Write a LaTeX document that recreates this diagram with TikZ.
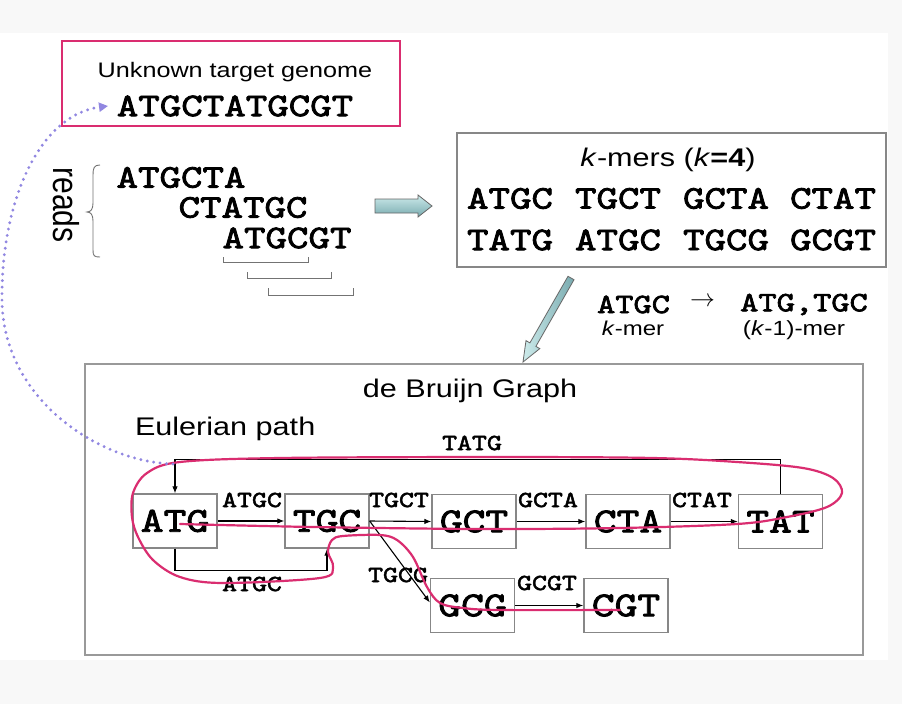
\documentclass[tikz,border=0pt]{standalone}
\usepackage{fontspec}
\setmainfont{Liberation Sans}
\newfontfamily\wsans[FakeStretch=1.2]{Liberation Sans}
\newfontfamily\cour{lmmono10-regular}[Extension=.otf, FakeStretch=1.24, FakeBold=2.5]
\newfontfamily\courl{lmmono10-regular}[Extension=.otf, FakeStretch=1.24, FakeBold=2.2]
\usetikzlibrary{arrows.meta,calc}
\definecolor{pinkc}{RGB}{218,45,112}
\definecolor{dotc}{RGB}{145,135,225}
\definecolor{boxg}{RGB}{135,135,135}
\definecolor{bgg}{RGB}{248,248,248}
\definecolor{tealL}{RGB}{205,235,235}
\definecolor{tealD}{RGB}{120,170,175}
\tikzset{
  txt/.style={inner sep=0pt, outer sep=0pt},
  bigmono/.style={txt, font=\cour\fontsize{33}{33}\selectfont},
  midmono/.style={txt, font=\cour\fontsize{28}{28}\selectfont},
  lblmono/.style={txt, font=\courl\fontsize{23}{23}\selectfont},
  vertex/.style={draw=boxg, line width=1.3pt, minimum width=84pt, minimum height=54pt, inner sep=0pt, font=\cour\fontsize{35}{35}\selectfont},
  edge/.style={-{Latex[length=7pt,width=5.5pt]}, line width=1.1pt, black},
  bracket/.style={draw=black!55, line width=1pt},
  blockarrow/.style={draw=black!60, line width=0.8pt, top color=tealL, bottom color=tealD},
}
\begin{document}
\begin{tikzpicture}[x=1pt,y=-1pt]
\useasboundingbox (0,0) rectangle (902,704);
\fill[bgg] (0,0) rectangle (902,704);
\fill[white] (0,33) rectangle (888,660);

% genome box
\node[draw=pinkc, line width=2.5pt, minimum width=338pt, minimum height=85pt, inner sep=0pt] (genome) at (231,83.5) {};
\node[txt, anchor=base, font=\wsans\fontsize{21}{21}\selectfont] (gtitle) at (235,77) {Unknown target genome};
\node[bigmono] (gseq) at (235,106) {ATGCTATGCGT};

% reads
\node[txt, rotate=-90, font=\fontsize{30}{30}\selectfont] (reads) at (66,205) {\scalebox{1}[1.2]{reads}};
\draw[black!55, line width=0.9pt] (100,165) .. controls (94,165) and (93,168) .. (93,175) -- (93,203)
   .. controls (93,209) and (91,212) .. (87,212) .. controls (91,212) and (93,215) .. (93,221)
   -- (93,250) .. controls (93,256) and (94,257) .. (100,257);
\node[bigmono] (r1) at (181,177.5) {ATGCTA};
\node[bigmono] (r2) at (243,207.5) {CTATGC};
\node[bigmono] (r3) at (287,238) {ATGCGT};
\draw[bracket] (223,257) |- (308,262) -- (308,257);
\draw[bracket] (247,272) |- (331,278) -- (331,272);
\draw[bracket] (268,288) |- (353,295) -- (353,288);

% block arrow right
\draw[blockarrow] (375,199) -- (418,199) -- (418,195) -- (432,206) -- (418,217) -- (418,213) -- (375,213) -- cycle;

% k-mers box
\node[draw=boxg, line width=1.5pt, minimum width=429pt, minimum height=134pt, inner sep=0pt] (kbox) at (671.5,200) {};
\node[txt, anchor=base, font=\wsans\fontsize{25.5}{25.5}\selectfont] (ktitle) at (668,166) {\textit{k}-mers (\textit{k}\textbf{=4})};
\node[bigmono] (k1) at (510,198.5) {ATGC};
\node[bigmono] (k2) at (618,198.5) {TGCT};
\node[bigmono] (k3) at (726,198.5) {GCTA};
\node[bigmono] (k4) at (833,198.5) {CTAT};
\node[bigmono] (k5) at (510,240) {TATG};
\node[bigmono] (k6) at (618,240) {ATGC};
\node[bigmono] (k7) at (726,240) {TGCG};
\node[bigmono] (k8) at (833,240) {GCGT};

% diagonal block arrow
\draw[blockarrow, left color=tealL, right color=tealD] (568.0,276.3) -- (574.0,279.7) -- (535.9,346.4) -- (539.8,348.6) -- (523,362) -- (526.0,340.6) -- (529.9,342.9) -- cycle;

% mapping
\node[midmono] (mk) at (633.5,304.5) {ATGC};
\node[txt, font=\fontsize{24}{24}\selectfont] (marrow) at (702.5,302) {$\rightarrow$};
\node[midmono] (mk1) at (804,304.5) {ATG,TGC};
\node[txt, anchor=base, font=\wsans\fontsize{20}{20}\selectfont] (kmerlbl) at (633,335) {\textit{k}-mer};
\node[txt, anchor=base, font=\wsans\fontsize{20.5}{20.5}\selectfont] (k1merlbl) at (794,335) {(\textit{k}-1)-mer};

% graph box
\node[draw=boxg!85, line width=2.2pt, minimum width=778pt, minimum height=291pt, inner sep=0pt] (gbox) at (474,509.5) {};
\node[txt, anchor=base, font=\wsans\fontsize{25.5}{25.5}\selectfont] (gtitle2) at (470,397) {de Bruijn Graph};
\node[txt, anchor=base west, font=\wsans\fontsize{25.5}{25.5}\selectfont] (euler) at (135,435) {Eulerian path};

\node[vertex] (ATG) at (175,521) {ATG};
\node[vertex] (TGC) at (327,521) {TGC};
\node[vertex] (GCT) at (474,521.5) {GCT};
\node[vertex] (CTA) at (628,521.5) {CTA};
\node[vertex] (TAT) at (780.5,521.5) {TAT};
\node[vertex] (GCG) at (472.5,605.5) {GCG};
\node[vertex] (CGT) at (626,605.5) {CGT};

\draw[edge] (ATG) -- (TGC);
\draw[edge] (TGC.east) -- (GCT.west);
\draw[edge] (GCT) -- (CTA);
\draw[edge] (CTA) -- (TAT);
\draw[edge] (GCG) -- (CGT);
\draw[edge] (TGC.east) -- ($(GCG.west)+(0,-3)$);
\draw[edge] (TAT.north) |- ($(ATG.north)+(0,-33.5)$) -- (ATG.north);
\draw[edge] (ATG.south) -- ++(0,22) -| (TGC.south);

\node[lblmono] (eTATG) at (472,443) {TATG};
\node[lblmono] (eATGC) at (252,500) {ATGC};
\node[lblmono] (eTGCT) at (399,500) {TGCT};
\node[lblmono] (eGCTA) at (548,500) {GCTA};
\node[lblmono] (eCTAT) at (702,500) {CTAT};
\node[lblmono] (eGCGT) at (547,583) {GCGT};
\node[lblmono] (eATGC2) at (252,584) {ATGC};
\node[lblmono] (eTGCG) at (398,575) {TGCG};

% Eulerian path
\draw[pinkc, line width=2.2pt, line cap=round] plot[smooth, tension=0.55] coordinates {
 (180,524) (313,527) (480,529) (620,528) (737,524) (787,517) (827,507) (842,493)
 (833,478) (803,468) (737,462) (653,458) (500,457) (280,458) (180,462) (147,473)
 (133,493) (132,517) (138,537) (153,560) (180,577) (223,583) (320,578) (333,567)
 (328,552) (332,540) (343,536) (380,535) (397,540) (413,557) (427,587) (440,603)
 (463,608) (500,610) (620,610)};

% dotted arc
\coordinate (dotS) at (173,464);
\coordinate (dotE) at (108,106);
\draw[dotc, line width=3.2pt, dash pattern=on 0pt off 6.5pt, line cap=round, -{Triangle[length=9pt,width=9pt]}]
  (dotS) .. controls (100,462) and (3,400) .. (2,300) .. controls (1,200) and (40,115) .. (dotE);
\end{tikzpicture}
\end{document}
